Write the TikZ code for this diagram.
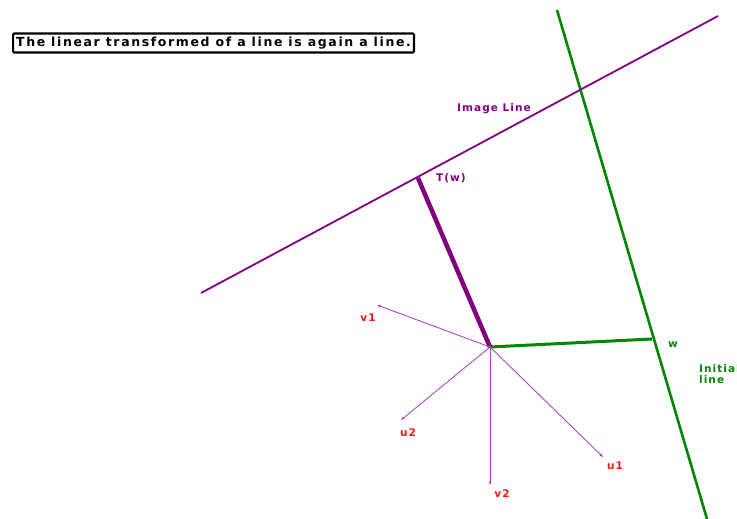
\documentclass[tikz,border=0pt]{standalone}
\usepackage{fontspec}
\setmainfont{DejaVu Sans}
\newfontfamily\lblfont[LetterSpace=10]{DejaVu Sans}
\newfontfamily\ttlfont[LetterSpace=13]{DejaVu Sans}
\usetikzlibrary{arrows.meta}
\definecolor{pur}{RGB}{128,0,128}
\definecolor{vecc}{RGB}{175,70,195}
\definecolor{grn}{RGB}{0,135,0}
\definecolor{rd}{RGB}{255,20,20}
\tikzset{
  lbl/.style={font=\lblfont\bfseries\fontsize{10.5}{11}\selectfont, inner sep=0pt},
  vec/.style={vecc, line width=0.9pt, -{Stealth[length=4pt,width=3pt]}},
}
\begin{document}
\begin{tikzpicture}[x=1pt,y=-1pt]
\clip (0,0) rectangle (737,519);
\useasboundingbox (0,0) rectangle (737,519);
% title
\node[draw=black, line width=2.2pt, rounded corners=1pt, fill=white, inner xsep=3pt, inner ysep=2pt,
      minimum height=19pt, font=\ttlfont\bfseries\fontsize{12.5}{13}\selectfont, anchor=west] (title) at (12,43) {The linear transformed of a line is again a line.};
% coordinates
\coordinate (o) at (490,347);
\coordinate (tw) at (418,178);
\coordinate (w) at (652,339);
\coordinate (gtop) at (557,10);
\coordinate (gbot) at (707,519);
\coordinate (pl) at (201,293);
\coordinate (pr) at (718,16);
% lines
\draw[grn, line width=2.6pt] (gtop) -- (gbot);
\draw[pur, line width=1.8pt] (pl) -- (pr);
\draw[pur, line width=4.5pt] (tw) -- (o);
\draw[grn, line width=3pt] (o) -- (w);
% vectors
\coordinate (v1) at (377,305);
\coordinate (u2) at (401,420);
\coordinate (v2) at (490,485);
\coordinate (u1) at (603,457);
\draw[vec] (o) -- (v1);
\draw[vec] (o) -- (u2);
\draw[vec] (o) -- (v2);
\draw[vec] (o) -- (u1);
% labels
\node[lbl, rd] (lv1) at (368,318) {v1};
\node[lbl, rd] (lu2) at (408,433) {u2};
\node[lbl, rd] (lv2) at (502,494) {v2};
\node[lbl, rd] (lu1) at (615,466) {u1};
\node[lbl, pur] (ltw) at (451,178) {T(w)};
\node[lbl, pur] (lim) at (494,109) {Image Line};
\node[lbl, grn] (lw) at (673,345) {w};
\node[lbl, grn, anchor=north west, align=left] (lin) at (699,364) {Initial\\line};
\end{tikzpicture}
\end{document}
